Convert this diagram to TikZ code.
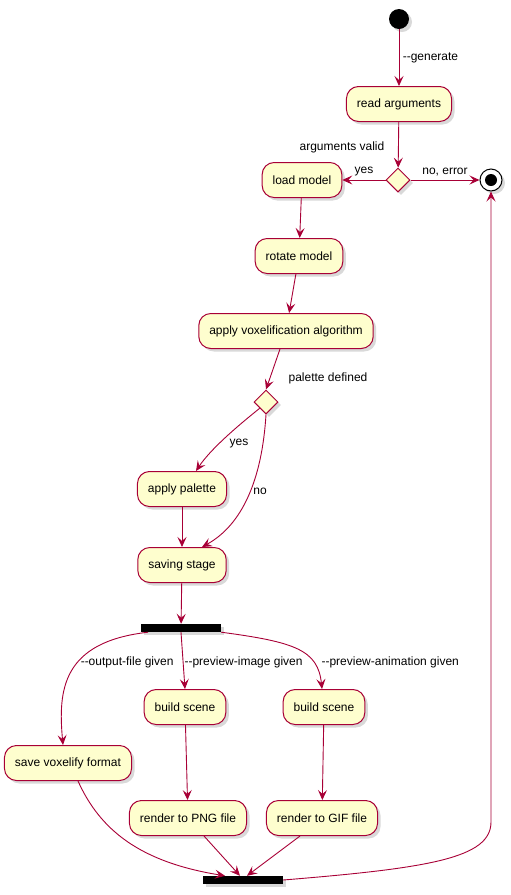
\documentclass[tikz,border=0pt]{standalone}
\usepackage{fontspec}
\setmainfont{Liberation Sans}
\usepackage{xcolor}
\usetikzlibrary{shapes.geometric,arrows.meta,shadows}
\definecolor{plred}{HTML}{A80036}
\definecolor{plyellow}{HTML}{FEFECE}

\begin{document}
\begin{tikzpicture}[x=1pt,y=-1pt,
    font=\fontsize{12}{14}\selectfont,
    shade/.style={drop shadow={shadow xshift=3pt,shadow yshift=-3pt,opacity=0.3}},
    act/.style={draw=plred,fill=plyellow,line width=1pt,rounded corners=12pt,
        minimum height=35pt,inner xsep=10.5pt,shade},
    choice/.style={diamond,aspect=1,draw=plred,fill=plyellow,line width=1pt,
        minimum size=24pt,inner sep=0pt,shade},
    bar/.style={fill=black,minimum width=80pt,minimum height=8pt,inner sep=0pt,shade},
    flow/.style={draw=plred,line width=0.9pt,-{Stealth[length=10pt,width=9pt,inset=4pt]}}]
    \useasboundingbox (0,0) rectangle (511,895);

    % Start and stop
    \node[circle,fill=black,minimum size=20pt,inner sep=0pt,shade] (start) at (399,19) {};
    \node[circle,draw=black,fill=white,line width=1pt,minimum size=22pt,inner sep=0pt,shade] (stop) at (491,180) {};
    \node[circle,fill=black,minimum size=12pt,inner sep=0pt] (stopdot) at (stop) {};

    % Argument check
    \node[act] (read) at (399,104) {read arguments};
    \node[choice] (valid) at (398,180) {};
    \node (validtxt) at (342,147) {arguments valid};

    % Model steps
    \node[act] (load) at (302,180) {load model};
    \node[act] (rotate) at (299,256) {rotate model};
    \node[act] (voxel) at (286,331) {apply voxelification algorithm};

    % Palette
    \node[choice] (palq) at (266,402) {};
    \node (paltxt) at (328,378) {palette defined};
    \node[act] (palette) at (182,489) {apply palette};
    \node[act] (saving) at (182,565) {saving stage};

    % Outputs
    \node[bar] (fork) at (181,628) {};
    \node[act] (savefmt) at (68,763) {save voxelify format};
    \node[act] (scenea) at (185,707) {build scene};
    \node[act] (sceneb) at (324,707) {build scene};
    \node[act] (png) at (188,818) {render to PNG file};
    \node[act] (gif) at (322,818) {render to GIF file};
    \node[bar] (join) at (243,880) {};
    \coordinate (bend) at (491,822);

    % Connectors
    \draw[flow] (start) -- node[right] {-{}-generate} (read);
    \draw[flow] (read) -- (valid);
    \draw[flow] (valid) -- node[above] {yes} (load);
    \draw[flow] (valid) -- node[above] {no, error} (stop);
    \draw[flow] (load) -- (rotate);
    \draw[flow] (rotate) -- (voxel);
    \draw[flow] ([xshift=-6pt]voxel.south) -- (palq.north);
    \draw[flow] (palq.south west) .. controls (235,428) and (210,450) .. ([xshift=14pt]palette.north);
    \node at (239,444) {yes};
    \draw[flow] (palq.south) .. controls (262,480) and (242,525) .. ([xshift=20pt]saving.north);
    \node at (260,491) {no};
    \draw[flow] (palette) -- (saving);
    \draw[flow] (saving) -- (fork);

    \draw[flow] ([xshift=-33pt]fork.south) .. controls (62,642) and (58,690) .. ([xshift=-5pt]savefmt.north);
    \node[left] at (177,662) {-{}-output-file given};
    \draw[flow] (fork.south) -- (scenea.north);
    \node[right] at (181,662) {-{}-preview-image given};
    \draw[flow] (fork.south east) .. controls (295,642) and (318,650) .. ([xshift=-2pt]sceneb.north);
    \node[right] at (318,662) {-{}-preview-animation given};

    \draw[flow] (scenea) -- (png);
    \draw[flow] (sceneb) -- (gif);
    \draw[flow] ([xshift=10pt]savefmt.south) .. controls (100,830) and (140,862) .. ([xshift=-18pt]join.north);
    \draw[flow] ([xshift=16pt]png.south) -- ([xshift=-3pt]join.north);
    \draw[flow] ([xshift=-22pt]gif.south) -- ([xshift=4pt]join.north);
    \draw[flow] (join.east) .. controls (430,868) and (491,858) .. (bend) -- (stop);
\end{tikzpicture}
\end{document}
